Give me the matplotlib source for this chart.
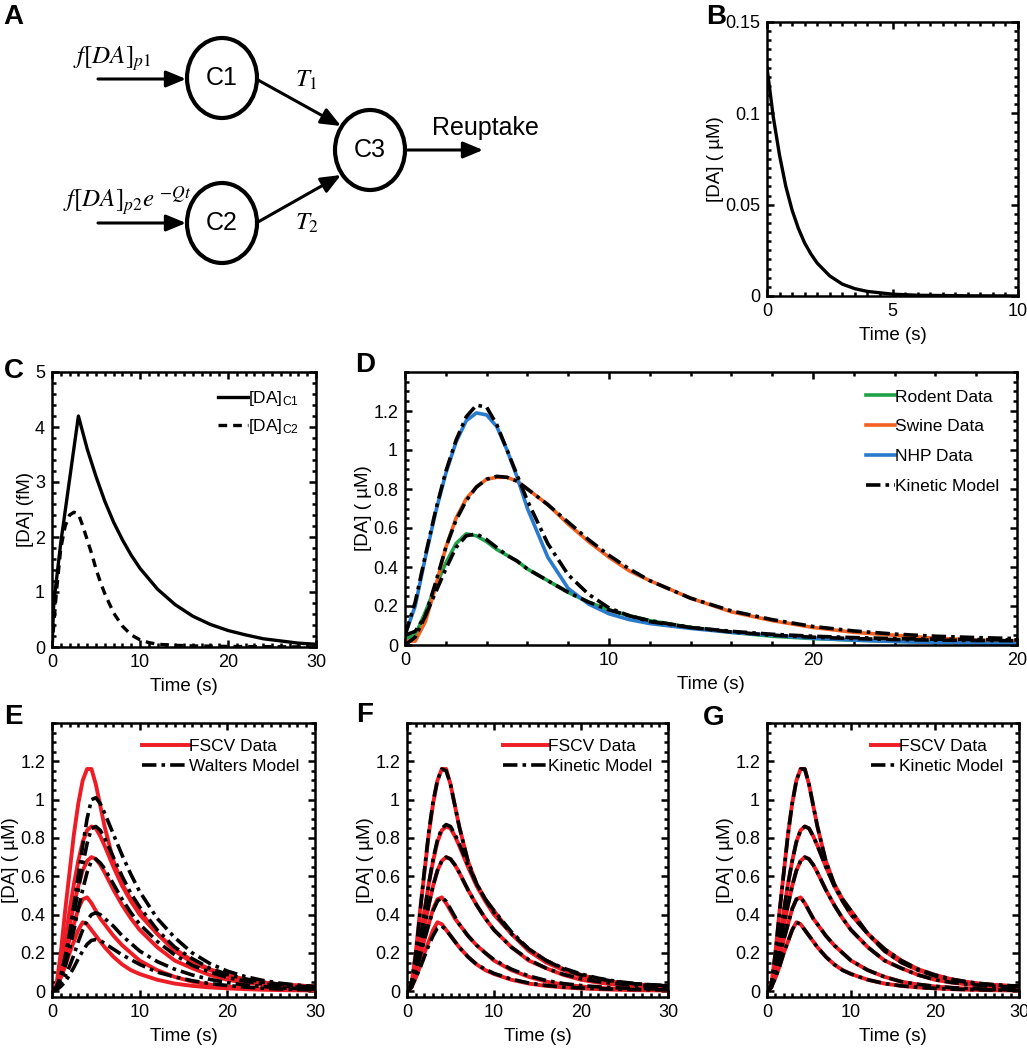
import matplotlib
matplotlib.use('Agg')
import matplotlib.pyplot as plt
from matplotlib.patches import Ellipse
from matplotlib.ticker import MultipleLocator, FuncFormatter

plt.rcParams['font.family'] = ['Liberation Sans', 'DejaVu Sans']
plt.rcParams['mathtext.fontset'] = 'stix'
plt.rcParams['axes.linewidth'] = 1.8

# ---- panel B: reuptake of released DA
t_b = [0, 0.25, 0.5, 0.75, 1, 1.25, 1.5, 1.75, 2, 2.5, 3, 3.5, 4, 5, 6, 8, 10]
da_b = [0.125, 0.098, 0.077, 0.060, 0.047, 0.037, 0.029, 0.023, 0.018, 0.011,
        0.0065, 0.004, 0.0025, 0.001, 0.0004, 0.0001, 0.0]

# ---- panel C: compartment concentrations
t_c1 = [0, 0.2, 1, 2, 3, 4, 5, 6, 7, 8, 9, 10, 12, 14, 16, 18, 20, 22, 24, 26, 28, 30]
da_c1 = [0, 0.8, 1.9, 3.05, 4.2, 3.6, 3.1, 2.65, 2.27, 1.95, 1.67, 1.43, 1.05, 0.77,
         0.56, 0.41, 0.30, 0.22, 0.15, 0.11, 0.07, 0.05]
t_c2 = [0, 0.5, 1, 1.5, 2, 2.5, 3, 3.5, 4, 4.5, 5, 5.5, 6, 7, 8, 9, 10, 11, 12, 14, 16,
        20, 25, 30]
da_c2 = [0, 1.0, 1.8, 2.2, 2.4, 2.45, 2.42, 2.2, 1.95, 1.7, 1.42, 1.18, 0.97, 0.62,
         0.38, 0.22, 0.13, 0.08, 0.05, 0.03, 0.02, 0.01, 0.005, 0.0]

# ---- panel D: species data vs kinetic model
t_d = [0, 0.5, 1, 1.5, 2, 2.5, 3, 3.5, 4, 4.5, 5, 5.5, 6, 7, 8, 9, 10, 11, 12, 14, 16,
       18, 20, 22, 24, 26, 28, 30]
rodent = [0.03, 0.05, 0.17, 0.30, 0.42, 0.52, 0.57, 0.56, 0.53, 0.49, 0.46, 0.43, 0.39,
          0.33, 0.27, 0.22, 0.18, 0.15, 0.125, 0.09, 0.065, 0.045, 0.033, 0.025, 0.019,
          0.015, 0.012, 0.01]
swine = [0.02, 0.02, 0.12, 0.30, 0.50, 0.65, 0.75, 0.81, 0.85, 0.86, 0.86, 0.84, 0.80,
         0.72, 0.62, 0.53, 0.45, 0.38, 0.33, 0.24, 0.17, 0.125, 0.09, 0.065, 0.05, 0.035,
         0.025, 0.02]
nhp = [0.05, 0.20, 0.45, 0.68, 0.88, 1.04, 1.15, 1.19, 1.18, 1.12, 1.00, 0.86, 0.70,
       0.45, 0.29, 0.21, 0.16, 0.13, 0.11, 0.085, 0.065, 0.05, 0.035, 0.025, 0.018,
       0.013, 0.01, 0.008]
rodent_fit = [0.05, 0.07, 0.15, 0.27, 0.39, 0.50, 0.56, 0.57, 0.54, 0.50, 0.46, 0.43,
              0.39, 0.33, 0.27, 0.22, 0.18, 0.15, 0.125, 0.09, 0.067, 0.05, 0.04, 0.033,
              0.028, 0.025, 0.023, 0.022]
swine_fit = [0.0, 0.04, 0.15, 0.32, 0.50, 0.64, 0.74, 0.81, 0.85, 0.865, 0.86, 0.84,
             0.80, 0.72, 0.63, 0.54, 0.46, 0.39, 0.33, 0.24, 0.175, 0.13, 0.095, 0.072,
             0.056, 0.045, 0.038, 0.033]
nhp_fit = [0.05, 0.22, 0.46, 0.69, 0.89, 1.05, 1.17, 1.23, 1.22, 1.13, 1.00, 0.87, 0.74,
           0.52, 0.36, 0.26, 0.19, 0.15, 0.12, 0.09, 0.07, 0.055, 0.045, 0.038, 0.033,
           0.03, 0.028, 0.026]
d_xticklabels = ['0', '10', '20', '20']

# ---- panels E-G: FSCV recordings and model fits
t_f = [0, 0.5, 1, 1.5, 2, 2.5, 3, 3.5, 4, 4.5, 5, 5.5, 6, 7, 8, 9, 10, 12, 14, 16, 18,
       20, 22, 24, 26, 28, 30]
fscv = [
    [0, 0.03, 0.20, 0.42, 0.62, 0.82, 0.98, 1.10, 1.16, 1.16, 1.08, 0.97, 0.86, 0.68,
     0.56, 0.48, 0.42, 0.30, 0.21, 0.15, 0.11, 0.08, 0.06, 0.045, 0.035, 0.03, 0.025],
    [0, 0.02, 0.12, 0.27, 0.42, 0.56, 0.68, 0.78, 0.84, 0.86, 0.85, 0.81, 0.76, 0.65,
     0.55, 0.47, 0.40, 0.30, 0.22, 0.16, 0.115, 0.085, 0.062, 0.047, 0.036, 0.03, 0.025],
    [0, 0.02, 0.10, 0.22, 0.34, 0.45, 0.55, 0.63, 0.68, 0.70, 0.69, 0.66, 0.62, 0.53,
     0.45, 0.38, 0.32, 0.23, 0.16, 0.12, 0.085, 0.06, 0.045, 0.035, 0.028, 0.022, 0.02],
    [0, 0.03, 0.10, 0.18, 0.27, 0.35, 0.43, 0.48, 0.49, 0.46, 0.42, 0.38, 0.35, 0.29,
     0.24, 0.20, 0.16, 0.11, 0.075, 0.05, 0.035, 0.025, 0.018, 0.013, 0.01, 0.008, 0.006],
    [0, 0.02, 0.07, 0.13, 0.20, 0.26, 0.32, 0.36, 0.35, 0.32, 0.29, 0.26, 0.23, 0.18,
     0.14, 0.11, 0.09, 0.06, 0.04, 0.028, 0.02, 0.015, 0.011, 0.008, 0.006, 0.005, 0.004],
]
walters = [
    [0, 0.02, 0.08, 0.18, 0.30, 0.45, 0.60, 0.76, 0.90, 1.00, 1.01, 0.98, 0.93, 0.82,
     0.71, 0.61, 0.52, 0.38, 0.28, 0.20, 0.145, 0.105, 0.077, 0.057, 0.042, 0.032, 0.025],
    [0, 0.02, 0.08, 0.17, 0.28, 0.40, 0.53, 0.66, 0.77, 0.85, 0.86, 0.84, 0.80, 0.70,
     0.60, 0.51, 0.44, 0.32, 0.23, 0.17, 0.12, 0.088, 0.065, 0.048, 0.036, 0.027, 0.02],
    [0, 0.015, 0.06, 0.13, 0.22, 0.32, 0.43, 0.53, 0.62, 0.68, 0.69, 0.67, 0.64, 0.56,
     0.48, 0.41, 0.35, 0.26, 0.19, 0.135, 0.10, 0.072, 0.053, 0.039, 0.029, 0.022, 0.017],
    [0, 0.01, 0.04, 0.08, 0.13, 0.19, 0.26, 0.32, 0.37, 0.40, 0.41, 0.40, 0.38, 0.34,
     0.29, 0.25, 0.21, 0.155, 0.115, 0.085, 0.062, 0.045, 0.033, 0.025, 0.018, 0.014, 0.01],
    [0, 0.007, 0.025, 0.05, 0.085, 0.125, 0.17, 0.21, 0.245, 0.265, 0.27, 0.265, 0.25,
     0.22, 0.19, 0.165, 0.14, 0.10, 0.075, 0.055, 0.04, 0.03, 0.022, 0.016, 0.012, 0.009,
     0.007],
]
kinetic_f = [
    [0, 0.04, 0.19, 0.41, 0.63, 0.83, 0.99, 1.10, 1.16, 1.15, 1.08, 0.97, 0.86, 0.68,
     0.56, 0.48, 0.42, 0.31, 0.22, 0.16, 0.115, 0.085, 0.065, 0.05, 0.04, 0.033, 0.028],
    [0, 0.03, 0.12, 0.26, 0.41, 0.56, 0.69, 0.79, 0.85, 0.87, 0.86, 0.82, 0.77, 0.66,
     0.56, 0.48, 0.41, 0.30, 0.22, 0.16, 0.12, 0.09, 0.068, 0.052, 0.041, 0.034, 0.029],
    [0, 0.02, 0.10, 0.21, 0.33, 0.45, 0.55, 0.63, 0.68, 0.70, 0.69, 0.66, 0.62, 0.53,
     0.45, 0.38, 0.32, 0.23, 0.165, 0.12, 0.088, 0.065, 0.05, 0.04, 0.032, 0.027, 0.023],
    [0, 0.03, 0.10, 0.18, 0.27, 0.35, 0.42, 0.47, 0.49, 0.47, 0.43, 0.39, 0.35, 0.29,
     0.24, 0.20, 0.165, 0.115, 0.08, 0.056, 0.04, 0.03, 0.023, 0.018, 0.015, 0.013, 0.011],
    [0, 0.02, 0.07, 0.12, 0.18, 0.24, 0.29, 0.33, 0.34, 0.32, 0.29, 0.26, 0.23, 0.18,
     0.14, 0.115, 0.093, 0.063, 0.043, 0.03, 0.022, 0.017, 0.013, 0.011, 0.009, 0.008,
     0.007],
]
kinetic_g = [
    [0, 0.03, 0.20, 0.42, 0.62, 0.82, 0.98, 1.10, 1.16, 1.16, 1.08, 0.97, 0.86, 0.68,
     0.56, 0.48, 0.42, 0.30, 0.21, 0.15, 0.11, 0.08, 0.06, 0.045, 0.035, 0.03, 0.027],
    [0, 0.02, 0.12, 0.27, 0.42, 0.56, 0.68, 0.78, 0.84, 0.86, 0.85, 0.81, 0.76, 0.65,
     0.55, 0.47, 0.40, 0.30, 0.22, 0.16, 0.115, 0.085, 0.063, 0.048, 0.038, 0.031, 0.027],
    [0, 0.02, 0.10, 0.22, 0.34, 0.45, 0.55, 0.63, 0.68, 0.70, 0.69, 0.66, 0.62, 0.53,
     0.45, 0.38, 0.32, 0.23, 0.16, 0.12, 0.085, 0.06, 0.046, 0.036, 0.029, 0.024, 0.021],
    [0, 0.03, 0.10, 0.18, 0.27, 0.35, 0.43, 0.48, 0.49, 0.46, 0.42, 0.38, 0.35, 0.29,
     0.24, 0.20, 0.16, 0.11, 0.075, 0.05, 0.036, 0.026, 0.019, 0.014, 0.011, 0.009, 0.008],
    [0, 0.02, 0.07, 0.13, 0.20, 0.26, 0.32, 0.36, 0.35, 0.32, 0.29, 0.26, 0.23, 0.18,
     0.14, 0.11, 0.09, 0.06, 0.04, 0.028, 0.02, 0.015, 0.011, 0.009, 0.007, 0.006, 0.005],
]

RED = '#ee1c24'
GREEN = '#1fa34a'
ORANGE = '#f26122'
BLUE = '#2b7bcd'
DASHDOT = (0, (4, 1.4, 1, 1.4))

W, H = 1027, 1050
fig = plt.figure(figsize=(W / 100, H / 100), dpi=100)


def px_axes(left, right, top, bottom):
    return fig.add_axes([left / W, 1 - bottom / H, (right - left) / W, (bottom - top) / H])


def frame(ax, xmaj, xmin, ymaj, ymin, ylabel):
    ax.set_xticks(xmaj)
    ax.set_yticks(ymaj)
    ax.xaxis.set_minor_locator(MultipleLocator(xmin))
    ax.yaxis.set_minor_locator(MultipleLocator(ymin))
    ax.tick_params(which='both', direction='in', top=True, right=True, width=1.8)
    ax.tick_params(which='major', length=5, labelsize=13, pad=5)
    ax.tick_params(which='minor', length=3)
    fmt = FuncFormatter(lambda v, p: '%g' % round(v, 4))
    ax.xaxis.set_major_formatter(fmt)
    ax.yaxis.set_major_formatter(fmt)
    ax.set_xlabel('Time (s)', fontsize=13.5, labelpad=5)
    ax.set_ylabel(ylabel, fontsize=13.5, labelpad=1)


# ---- A: compartment diagram, drawn in figure pixels
ax_a = fig.add_axes([0, 0, 1, 1], zorder=-1)
ax_a.set_xlim(0, W)
ax_a.set_ylim(H, 0)
ax_a.axis('off')
for name, cx, cy in [('C1', 222, 78), ('C2', 222, 223), ('C3', 370, 150)]:
    ax_a.add_patch(Ellipse((cx, cy), 70, 80, fill=False, lw=3, color='k'))
    ax_a.text(cx, cy, name, fontsize=18, ha='center', va='center')
arrow = dict(arrowstyle='-|>,head_length=0.6,head_width=0.25', lw=2.2, color='k',
             shrinkA=0, shrinkB=0, mutation_scale=20)
for x0, y0, x1, y1 in [(98, 79, 186, 79), (98, 223, 186, 223), (258, 80, 341, 126),
                       (258, 222, 341, 175), (405, 150, 483, 150)]:
    ax_a.annotate('', xy=(x1, y1), xytext=(x0, y0), arrowprops=arrow)
ax_a.text(432, 128, 'Reuptake', fontsize=18, va='center')
ax_a.text(73, 64, r'$\mathit{f[DA]}_{\mathit{p1}}$', fontsize=18, va='baseline')
ax_a.text(63, 208, r'$\mathit{f[DA]}_{\mathit{p2}}\mathit{e}^{\ \mathit{-Qt}}$',
          fontsize=18, va='baseline')
ax_a.text(295, 87, r'$\mathit{T}_{\mathit{1}}$', fontsize=18, va='baseline')
ax_a.text(295, 230, r'$\mathit{T}_{\mathit{2}}$', fontsize=18, va='baseline')

# ---- B
ax_b = px_axes(767, 1018, 22, 296)
ax_b.plot(t_b, da_b, color='k', lw=2.4)
ax_b.set_xlim(0, 10)
ax_b.set_ylim(0, 0.15)
frame(ax_b, [0, 5, 10], 0.5, [0, 0.05, 0.1, 0.15], 0.005, '[DA] ( µM)')

# ---- C
ax_c = px_axes(52, 316, 372, 647)
ax_c.plot(t_c1, da_c1, color='k', lw=2.4, label=r'[DA]$_{\mathregular{C1}}$')
ax_c.plot(t_c2, da_c2, color='k', lw=2.4, ls=(0, (2.6, 1.8)),
          label=r'[DA]$_{\mathregular{C2}}$')
ax_c.set_xlim(0, 30)
ax_c.set_ylim(0, 5)
frame(ax_c, [0, 10, 20, 30], 1, [0, 1, 2, 3, 4, 5], 0.2, '[DA] (fM)')
ax_c.legend(loc='upper right', frameon=False, fontsize=12.5, handlelength=1.7,
            handletextpad=0.0, labelspacing=0.5, borderaxespad=0.6)

# ---- D
ax_d = px_axes(405, 1017, 372, 645)
ax_d.plot(t_d, rodent, color=GREEN, lw=2.6, label='Rodent Data')
ax_d.plot(t_d, swine, color=ORANGE, lw=2.6, label='Swine Data')
ax_d.plot(t_d, nhp, color=BLUE, lw=2.6, label='NHP Data')
ax_d.plot(t_d, rodent_fit, color='k', lw=2.6, ls=DASHDOT, label='Kinetic Model')
ax_d.plot(t_d, swine_fit, color='k', lw=2.6, ls=DASHDOT)
ax_d.plot(t_d, nhp_fit, color='k', lw=2.6, ls=DASHDOT)
ax_d.set_xlim(0, 30)
ax_d.set_ylim(0, 1.4)
frame(ax_d, [0, 10, 20, 30], 2, [0, 0.2, 0.4, 0.6, 0.8, 1, 1.2], 0.05, '[DA] ( µM)')
ax_d.set_xticklabels(d_xticklabels)
ax_d.legend(loc='upper right', frameon=False, fontsize=12.5, handlelength=1.7,
            handletextpad=0.0, labelspacing=0.85, borderaxespad=0.6)

# ---- E, F, G
panels = [
    (px_axes(52, 315, 723, 997), walters, 'Walters Model', 2.7),
    (px_axes(407, 668, 723, 997), kinetic_f, 'Kinetic Model', 2.6),
    (px_axes(767, 1019, 723, 997), kinetic_g, 'Kinetic Model', 1.6),
]
for ax, model, name, hlen in panels:
    for i, curve in enumerate(fscv):
        ax.plot(t_f, curve, color=RED, lw=2.8, label='FSCV Data' if i == 0 else None)
    for i, curve in enumerate(model):
        ax.plot(t_f, curve, color='k', lw=2.6, ls=DASHDOT, label=name if i == 0 else None)
    ax.set_xlim(0, 30)
    ax.set_ylim(-0.03, 1.4)
    frame(ax, [0, 10, 20, 30], 1, [0, 0.2, 0.4, 0.6, 0.8, 1, 1.2], 0.05, '[DA] ( µM)')
    ax.legend(loc='upper right', frameon=False, fontsize=12.5, handlelength=hlen,
              handletextpad=0.0, labelspacing=0.3, borderaxespad=0.5)

# panel letters
for letter, x, y in [('A', 3, 4), ('B', 706, 4), ('C', 4, 358), ('D', 355, 352),
                     ('E', 4, 704), ('F', 356, 702), ('G', 703, 705)]:
    fig.text(x / W, 1 - y / H, letter, fontsize=20, fontweight='bold', va='top',
             family=['Liberation Sans Narrow', 'Liberation Sans'])

fig.savefig('out.png', dpi=100)
